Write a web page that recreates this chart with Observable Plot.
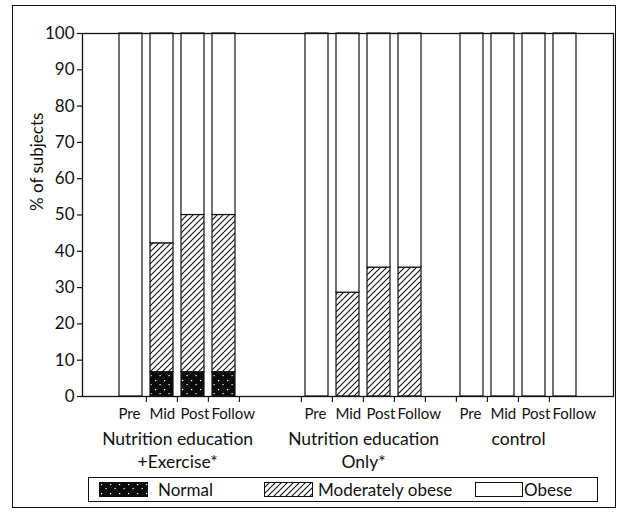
<!DOCTYPE html>
<html>
<head>
<meta charset="utf-8">
<script src="https://cdn.jsdelivr.net/npm/d3@7"></script>
<script src="https://cdn.jsdelivr.net/npm/@observablehq/plot@0.6"></script>
<style>
  body { margin: 0; background: #fff; font-family: Lato, "Open Sans", sans-serif; color: #111; }
  #wrap { position: relative; width: 619px; height: 514px; overflow: hidden; }
  #chart { position: absolute; left: 0; top: 0; }
  #border { position: absolute; left: 12px; top: 5px; width: 602px; height: 501px; border: 1.5px solid #111; pointer-events: none; }
  #legend { position: absolute; left: 88px; top: 477px; width: 508px; height: 23px; border: 1.3px solid #111; font-size: 17px; }
  .item { position: absolute; top: 0; height: 23px; line-height: 23px; white-space: nowrap; }
  .item svg { position: absolute; top: 4px; left: 0; }
  .item span { position: absolute; top: 0; }
</style>
</head>
<body>
<svg width="0" height="0" style="position:absolute">
  <defs>
    <pattern id="hatch" patternUnits="userSpaceOnUse" width="6" height="6">
      <rect width="6" height="6" fill="#fff"/>
      <path d="M-1,7 L7,-1 M-4,4 L4,-4 M2,10 L10,2" stroke="#111" stroke-width="1.1"/>
    </pattern>
    <pattern id="dots" patternUnits="userSpaceOnUse" width="9" height="9">
      <rect width="9" height="9" fill="#0a0a0a"/>
      <rect x="2" y="2" width="1.2" height="1.2" fill="#fff"/>
      <rect x="6.5" y="6" width="1.2" height="1.2" fill="#fff"/>
    </pattern>
  </defs>
</svg>
<div id="wrap">
  <div id="chart"></div>
  <div id="border"></div>
  <div id="legend">
    <div class="item" style="left:10px">
      <svg width="49" height="15"><rect x="0" y="0" width="49" height="15" fill="url(#dots)"/></svg>
      <span style="left:59px">Normal</span>
    </div>
    <div class="item" style="left:175px">
      <svg width="49" height="15"><rect x="0.5" y="0.5" width="48" height="14" fill="url(#hatch)" stroke="#111" stroke-width="1"/></svg>
      <span style="left:54px">Moderately obese</span>
    </div>
    <div class="item" style="left:386px">
      <svg width="48" height="15"><rect x="0.5" y="0.5" width="47" height="14" fill="#fff" stroke="#111" stroke-width="1"/></svg>
      <span style="left:49px">Obese</span>
    </div>
  </div>
</div>
<script>
// ---- data ----
const groupLine1 = ["Nutrition education", "Nutrition education", "control"];
const groupLine2 = ["+Exercise*", "Only*", ""];
const phases = ["Pre", "Mid", "Post", "Follow"];
const statuses = ["Normal", "Moderately obese", "Obese"];
const normalPct   = [[0, 6.7, 6.7, 6.7], [0, 0, 0, 0], [0, 0, 0, 0]];
const moderatePct = [[0, 35.5, 43.3, 43.3], [0, 28.6, 35.5, 35.5], [0, 0, 0, 0]];
const obesePct    = [[100, 57.8, 50, 50], [100, 71.4, 64.5, 64.5], [100, 100, 100, 100]];
const yTicks = [0, 10, 20, 30, 40, 50, 60, 70, 80, 90, 100];
const yLabel = "% of subjects";

// ---- build table ----
const key = (g, p) => `G${g}|${p}`;
const rows = [];
groupLine1.forEach((_, g) => {
  phases.forEach((p, i) => {
    rows.push({bar: key(g, p), status: statuses[0], pct: normalPct[g][i]});
    rows.push({bar: key(g, p), status: statuses[1], pct: moderatePct[g][i]});
    rows.push({bar: key(g, p), status: statuses[2], pct: obesePct[g][i]});
  });
});
// band domain with spacer slots between groups
const domain = ["s0", ...phases.map(p => key(0, p)), "s1", "s2",
                ...phases.map(p => key(1, p)), "s3",
                ...phases.map(p => key(2, p)), "s4"];
const barKeys = domain.filter(d => d.startsWith("G"));
const tickKeys = domain.filter((d, i) => i > 1 && i !== 6 && i < domain.length - 1);
const groups = groupLine1.map((l1, g) => ({mid: key(g, "Mid"), l1, l2: groupLine2[g]}));

const W = 619, H = 470, mL = 82, mR = 6, mT = 33, mB = 74;
const padIn = 0.26;
const step = (W - mL - mR) / domain.length;
const bw = step * (1 - padIn);

const chart = Plot.plot({
  width: W, height: H,
  marginLeft: mL, marginRight: mR, marginTop: mT, marginBottom: mB,
  style: {fontFamily: "Lato, Open Sans, sans-serif", background: "transparent", color: "#111", overflow: "visible"},
  x: {domain, paddingInner: padIn, paddingOuter: padIn / 2, axis: null},
  y: {domain: [0, 100], axis: null},
  color: {domain: statuses, range: ["url(#dots)", "url(#hatch)", "#ffffff"]},
  marks: [
    Plot.barY(rows, Plot.stackY({x: "bar", y: "pct", fill: "status", stroke: "#111", strokeWidth: 1.2, order: null})),
    Plot.frame({stroke: "#111", strokeWidth: 1.3}),
    Plot.axisY({ticks: yTicks, tickSize: 5, tickPadding: 3, fontSize: 17, strokeWidth: 1.2, label: null}),
    Plot.text([yLabel], {text: d => d, frameAnchor: "left", rotate: -90, dx: -45, dy: -4, fontSize: 17}),
    Plot.axisX({ticks: tickKeys, tickSize: 6, tickFormat: () => "", dx: -step / 2, strokeWidth: 1.1, label: null}),
    Plot.text(barKeys, {x: d => d, text: d => d.split("|")[1], frameAnchor: "bottom", dy: 22, dx: -bw / 2 - 1,
                        textAnchor: "start", fontSize: 15}),
    Plot.text(groups, {x: "mid", text: "l1", frameAnchor: "bottom", dx: step / 2, dy: 48, fontSize: 17.5}),
    Plot.text(groups, {x: "mid", text: "l2", frameAnchor: "bottom", dx: step / 2, dy: 71, fontSize: 17.5})
  ]
});
document.getElementById("chart").appendChild(chart);
</script>
</body>
</html>
